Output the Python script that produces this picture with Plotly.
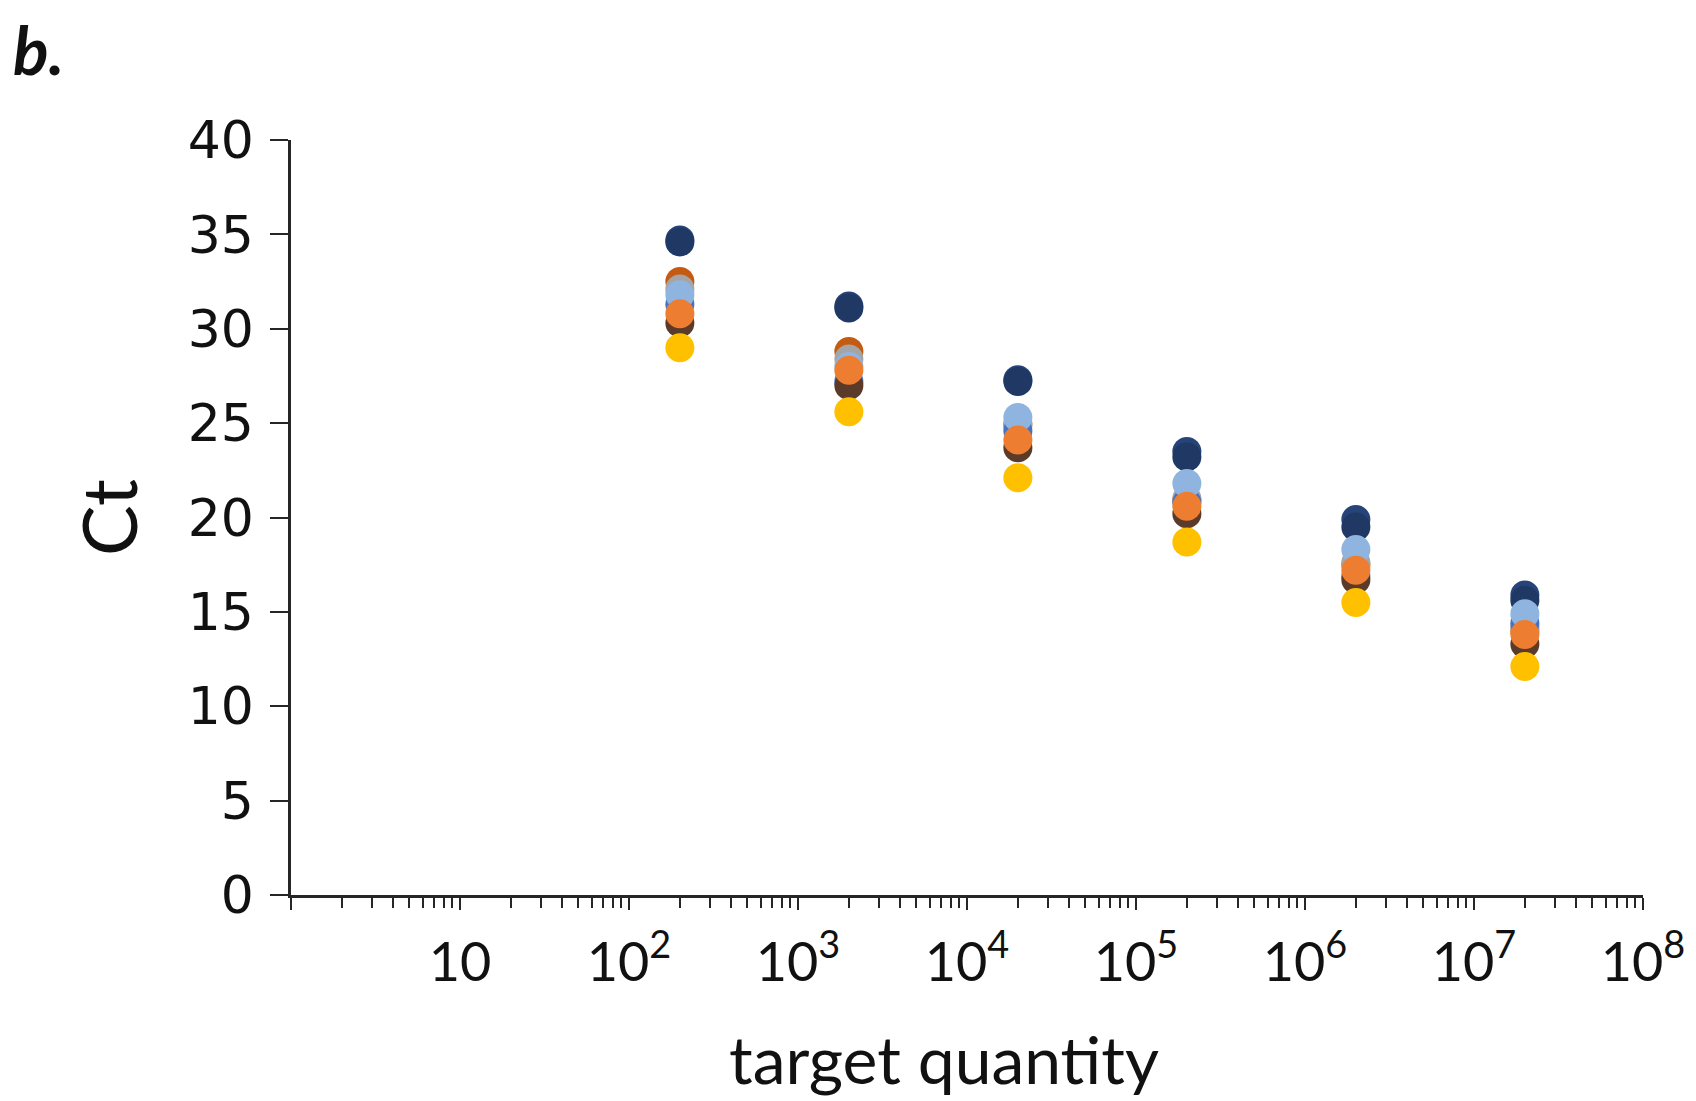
import plotly.graph_objects as go

# Data
target_quantity = [2e2, 2e3, 2e4, 2e5, 2e6, 2e7]
series_names = ["S1", "S2", "S3", "S4", "S5", "S6", "S7", "S8", "S9"]
navy      = [34.7, 31.2, 27.3, 23.5, 19.9, 15.9]
navy2     = [34.6, 31.1, 27.2, 23.2, 19.5, 15.6]
brown     = [32.5, 28.8, 24.9, 20.9, 17.5, 14.0]
gray      = [32.1, 28.4, 25.0, 21.0, 17.6, 14.2]
blue      = [31.3, 27.2, 24.6, 20.8, 16.9, 14.4]
lightblue = [31.8, 28.0, 25.3, 21.8, 18.3, 14.9]
darkbrown = [30.3, 27.0, 23.7, 20.2, 16.7, 13.3]
orange    = [30.8, 27.8, 24.1, 20.6, 17.2, 13.8]
yellow    = [29.0, 25.6, 22.1, 18.7, 15.5, 12.1]

series_values = [navy, navy2, brown, gray, blue, lightblue, darkbrown, orange, yellow]
series_colors = ["#264478", "#1F3864", "#C55A11", "#A5A5A5", "#4472C4",
                 "#8FB4E0", "#5A3A28", "#ED7D31", "#FFC000"]

x_tickvals = [1, 10, 1e2, 1e3, 1e4, 1e5, 1e6, 1e7, 1e8]
x_ticktext = ["", "10", "10<sup>2</sup>", "10<sup>3</sup>", "10<sup>4</sup>",
              "10<sup>5</sup>", "10<sup>6</sup>", "10<sup>7</sup>", "10<sup>8</sup>"]
y_tickvals = [0, 5, 10, 15, 20, 25, 30, 35, 40]

minor_vals = [k * 10 ** n for n in range(0, 8) for k in range(2, 10)]

W, H = 1696, 1101
L, R, T, B = 283, 61, 132, 214
PW, PH = W - L - R, H - T - B

fig = go.Figure()
for name, vals, col in zip(series_names, series_values, series_colors):
    fig.add_trace(go.Scatter(
        x=target_quantity, y=vals, mode="markers", name=name,
        marker=dict(size=29, color=col, line=dict(width=0)),
        showlegend=False, cliponaxis=False))

axis_color = "#262626"
fig.update_layout(
    width=W, height=H,
    paper_bgcolor="white", plot_bgcolor="white",
    margin=dict(l=L, r=R, t=T, b=B),
    font=dict(family="Lato, Open Sans, sans-serif", color="#111111"),
    xaxis=dict(
        type="log", range=[0, 8],
        tickvals=x_tickvals, ticktext=x_ticktext,
        ticks="outside", ticklen=12, tickwidth=2, tickcolor=axis_color,
        showline=True, linecolor=axis_color, linewidth=2.5,
        showgrid=False, zeroline=False,
        tickfont=dict(size=54, family="Lato, sans-serif", color="#111111"),
        ticklabelstandoff=6,
        minor=dict(tickvals=minor_vals, ticks="outside", ticklen=10,
                   tickwidth=1.5, tickcolor=axis_color, showgrid=False),
    ),
    yaxis=dict(
        range=[0, 40], tickvals=y_tickvals,
        ticks="outside", ticklen=18, tickwidth=2, tickcolor=axis_color,
        showline=True, linecolor=axis_color, linewidth=2.5,
        showgrid=False, zeroline=False,
        tickfont=dict(size=52, family="DejaVu Sans, sans-serif", color="#111111"),
        ticklabelstandoff=6,
        title=dict(text="Ct", font=dict(size=76, family="Lato, sans-serif"), standoff=26),
    ),
)

# x-axis title
fig.add_annotation(text="target quantity", xref="paper", yref="paper",
                   x=(936 - L) / PW, y=-(1050 - (H - B)) / PH,
                   xanchor="center", yanchor="middle", showarrow=False,
                   font=dict(size=66, family="Lato, sans-serif", color="#111111"))

# panel label
fig.add_annotation(text="<b><i>b.</i></b>", xref="paper", yref="paper",
                   x=-L / PW, y=1 + T / PH, xanchor="left", yanchor="top",
                   xshift=3, yshift=0,
                   showarrow=False, font=dict(size=66, family="Lato, sans-serif", color="#111111"))

fig.write_html("out.html")
